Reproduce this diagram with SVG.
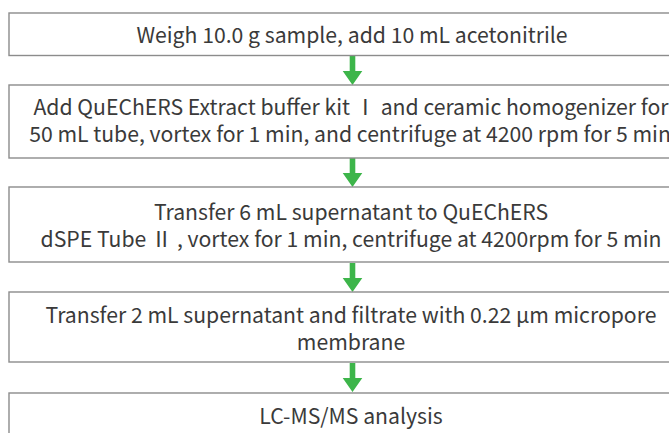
<svg xmlns="http://www.w3.org/2000/svg" width="669" height="433" viewBox="0 0 669 433">
  <style>
    .box { fill: #ffffff; stroke: #8c8c8c; stroke-width: 1.4; }
    .label { font-family: "Noto Sans CJK SC", "Noto Sans", sans-serif; font-size: 21.2px; fill: #3a3a3a; text-anchor: middle; }
    .arrow { fill: #3db54a; }
  </style>
  <defs>
    <path id="down" class="arrow" d="M -2.8 0 L 2.8 0 L 2.8 15 L 9.8 15 L 0 29 L -9.8 15 L -2.8 15 Z"/>
  </defs>
  <rect width="669" height="433" fill="#ffffff"/>

  <g id="connectors">
    <use href="#down" x="352.5" y="56"/>
    <use href="#down" x="352.5" y="158"/>
    <use href="#down" x="352.5" y="263"/>
    <use href="#down" x="352.5" y="363"/>
  </g>

  <g id="step1">
    <rect class="box" x="9" y="13" width="700" height="42.5"/>
    <text class="label" x="352" y="42.8">Weigh 10.0 g sample, add 10 mL acetonitrile</text>
  </g>

  <g id="step2">
    <rect class="box" x="9" y="85" width="700" height="73"/>
    <text class="label" x="351" y="115">Add QuEChERS Extract buffer kit Ⅰ and ceramic homogenizer for</text>
    <text class="label" x="350" y="142.3">50 mL tube, vortex for 1 min, and centrifuge at 4200 rpm for 5 min</text>
  </g>

  <g id="step3">
    <rect class="box" x="9" y="187" width="700" height="75"/>
    <text class="label" x="351" y="220">Transfer 6 mL supernatant to QuEChERS</text>
    <text class="label" x="351" y="247">dSPE Tube Ⅱ , vortex for 1 min, centrifuge at 4200rpm for 5 min</text>
  </g>

  <g id="step4">
    <rect class="box" x="9" y="292" width="700" height="70"/>
    <text class="label" x="351" y="322.5">Transfer 2 mL supernatant and filtrate with 0.22 µm micropore</text>
    <text class="label" x="351" y="349.5">membrane</text>
  </g>

  <g id="step5">
    <rect class="box" x="9" y="393" width="700" height="60"/>
    <text class="label" x="351" y="424">LC-MS/MS analysis</text>
  </g>
</svg>
